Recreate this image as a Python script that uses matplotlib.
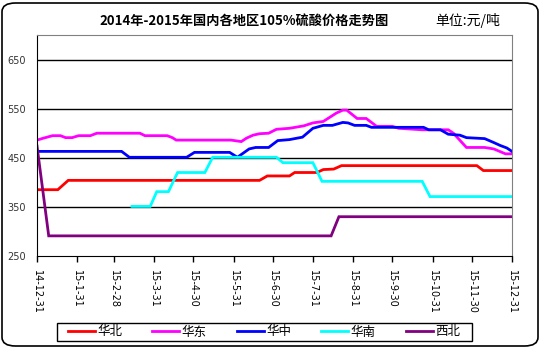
import numpy as np
import pandas as pd
import matplotlib
matplotlib.use("Agg")
import matplotlib.pyplot as plt
from matplotlib.patches import FancyBboxPatch, Rectangle

plt.rcParams['font.family'] = ['Noto Sans CJK SC', 'DejaVu Sans']

# 各地区价格拐点 (日期, 元/吨)
huabei_dates = ["2014-12-31", "2015-01-16", "2015-01-24", "2015-06-20", "2015-06-26", "2015-07-13",
                "2015-07-17", "2015-08-03", "2015-08-08", "2015-08-16", "2015-08-22", "2015-12-04",
                "2015-12-09", "2015-12-31"]
huabei = [385, 385, 404, 404, 413, 413, 420, 420, 426, 427, 434, 434, 424, 424]

huadong_dates = ["2014-12-31", "2015-01-05", "2015-01-12", "2015-01-18", "2015-01-22", "2015-01-27",
                 "2015-02-01", "2015-02-10", "2015-02-15", "2015-03-20", "2015-03-24", "2015-04-10",
                 "2015-04-14", "2015-04-17", "2015-05-29", "2015-06-06", "2015-06-10", "2015-06-15",
                 "2015-06-20", "2015-06-27", "2015-07-03", "2015-07-13", "2015-07-24", "2015-07-31",
                 "2015-08-08", "2015-08-18", "2015-08-23", "2015-08-26", "2015-09-03", "2015-09-10",
                 "2015-09-18", "2015-09-30", "2015-10-05", "2015-10-23", "2015-11-12", "2015-11-16",
                 "2015-11-26", "2015-12-10", "2015-12-17", "2015-12-26", "2015-12-31"]
huadong = [486, 490, 495, 495, 491, 491, 495, 495, 500, 500, 495, 495, 491, 486, 486, 483, 490, 496,
           499, 500, 508, 510, 515, 521, 524, 541, 547, 547, 530, 530, 514, 514, 510, 507, 507, 500,
           471, 471, 468, 458, 458]

huazhong_dates = ["2014-12-31", "2015-03-06", "2015-03-12", "2015-04-25", "2015-05-01", "2015-05-28",
                  "2015-06-03", "2015-06-12", "2015-06-17", "2015-06-27", "2015-07-04", "2015-07-13",
                  "2015-07-23", "2015-07-31", "2015-08-08", "2015-08-15", "2015-08-23", "2015-08-27",
                  "2015-09-01", "2015-09-10", "2015-09-14", "2015-10-24", "2015-10-28", "2015-11-06",
                  "2015-11-12", "2015-11-21", "2015-11-26", "2015-12-10", "2015-12-17", "2015-12-22",
                  "2015-12-27", "2015-12-31"]
huazhong = [463, 463, 451, 451, 461, 461, 451, 468, 471, 471, 485, 487, 492, 510, 516, 516, 522, 521,
            516, 516, 512, 512, 507, 507, 498, 496, 491, 489, 481, 475, 470, 463]

huanan_dates = ["2015-03-14", "2015-03-28", "2015-04-02", "2015-04-11", "2015-04-18", "2015-05-09",
                "2015-05-15", "2015-07-03", "2015-07-08", "2015-07-31", "2015-08-07", "2015-10-23",
                "2015-10-29", "2015-12-31"]
huanan = [351, 351, 381, 381, 420, 420, 451, 451, 440, 440, 402, 402, 371, 371]

xibei_dates = ["2014-12-31", "2015-01-09", "2015-08-14", "2015-08-20", "2015-12-31"]
xibei = [474, 291, 291, 330, 330]

series = [
    ("华北", huabei_dates, huabei, "#ff0000"),
    ("华东", huadong_dates, huadong, "#ff00ff"),
    ("华中", huazhong_dates, huazhong, "#0000ff"),
    ("华南", huanan_dates, huanan, "#00ffff"),
    ("西北", xibei_dates, xibei, "#800080"),
]

tick_dates = ["2014-12-31", "2015-01-31", "2015-02-28", "2015-03-31", "2015-04-30", "2015-05-31",
              "2015-06-30", "2015-07-31", "2015-08-31", "2015-09-30", "2015-10-31", "2015-11-30",
              "2015-12-31"]
tick_labels = ["14-12-31", "15-1-31", "15-2-28", "15-3-31", "15-4-30", "15-5-31", "15-6-30",
               "15-7-31", "15-8-31", "15-9-30", "15-10-31", "15-11-30", "15-12-31"]

W, H = 541, 348
fig = plt.figure(figsize=(W / 100, H / 100), dpi=100)
ax = fig.add_axes([37 / W, 1 - 256 / H, 475 / W, 221 / H])

for name, d, v, c in series:
    ax.plot(pd.to_datetime(d), v, color=c, lw=2, label=name, solid_joinstyle="miter")

ax.set_xlim(pd.Timestamp("2014-12-31"), pd.Timestamp("2015-12-31"))
ax.set_ylim(250, 700)
ax.set_yticks([250, 350, 450, 550, 650])
for y in [350, 450, 550, 650]:
    ax.axhline(y, color="black", lw=1, zorder=0)

ax.set_xticks(pd.to_datetime(tick_dates))
ax.set_xticklabels(tick_labels, rotation=270, fontsize=7, family="DejaVu Sans")
ax.tick_params(axis="x", direction="out", length=4, width=1, pad=6)
ax.tick_params(axis="y", length=0, labelsize=7, pad=8, labelcolor="#333333")
for lbl in ax.get_yticklabels():
    lbl.set_family("DejaVu Sans")

ax.spines["left"].set_color("black")
ax.spines["bottom"].set_color("black")
ax.spines["top"].set_color("#808080")
ax.spines["right"].set_color("#808080")

fig.text(244 / W, 1 - 21 / H, "2014年-2015年国内各地区105%硫酸价格走势图", ha="center", va="center",
         fontsize=9.5, fontweight="bold")
fig.text(500 / W, 1 - 20 / H, "单位:元/吨", ha="right", va="center", fontsize=10)

# 图例: 无边框, 外框单独绘制
leg = fig.legend(loc="center", bbox_to_anchor=(264 / W, 1 - 332 / H), ncol=5, frameon=False,
                 fontsize=9, handlelength=2.16, columnspacing=2.4, handletextpad=0.2,
                 borderpad=0)
fig.patches.append(Rectangle((57 / W, 1 - 341 / H), 415 / W, 18 / H, transform=fig.transFigure,
                             fill=False, edgecolor="black", lw=1))

# 外框圆角矩形
border = FancyBboxPatch((2 / W, 2 / H), 536 / W, 343 / H, boxstyle="round,pad=0,rounding_size=0.025",
                        transform=fig.transFigure, fill=False, edgecolor="black", lw=1.2)
fig.patches.append(border)

fig.savefig("out.png", dpi=100)
